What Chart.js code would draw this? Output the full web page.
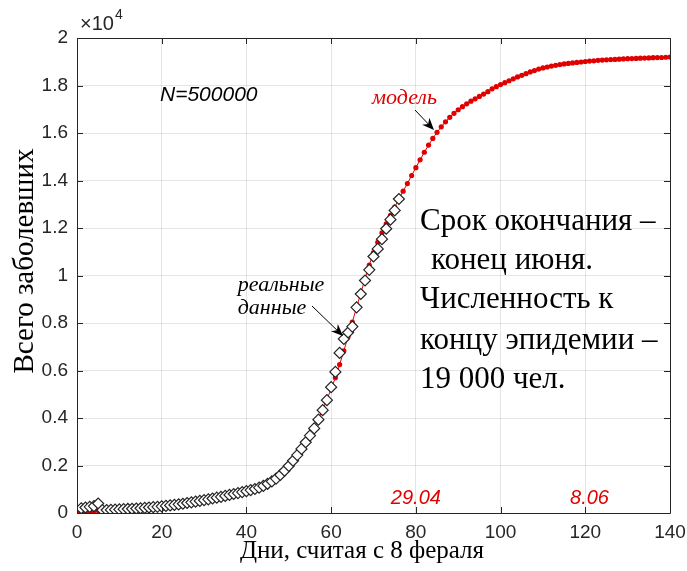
<!DOCTYPE html>
<html>
<head>
<meta charset="utf-8">
<script src="https://cdn.jsdelivr.net/npm/chart.js@4.4.1/dist/chart.umd.min.js"></script>
<style>
  body { margin: 0; background: #fff; }
  #wrap { width: 687px; height: 571px; }
</style>
</head>
<body>
<div id="wrap"><canvas id="myChart" width="687" height="571"></canvas></div>
<script>
// model: one value per day, starting at day 0
const modelValues = [
  40, 45, 55, 65, 75, 100, 110, 120, 130, 140,
  150, 160, 170, 180, 190, 200, 215, 230, 245, 260,
  280, 300, 320, 340, 365, 390, 415, 445, 475, 505,
  535, 570, 605, 640, 675, 715, 755, 795, 835, 875,
  920, 970, 1020, 1080, 1150, 1240, 1340, 1460, 1610, 1790,
  1990, 2210, 2450, 2710, 2990, 3280, 3600, 3960, 4350, 4780,
  5220, 5700, 6250, 6830, 7430, 8040, 8650, 9260, 9860, 10440,
  10960, 11400, 11800, 12170, 12530, 12880, 13220, 13550, 13870, 14210,
  14540, 14870, 15190, 15490, 15770, 16030, 16260, 16470, 16660, 16830,
  16980, 17110, 17230, 17340, 17440, 17540, 17640, 17740, 17860, 17950,
  18040, 18120, 18200, 18280, 18360, 18430, 18500, 18570, 18630, 18690,
  18740, 18780, 18820, 18850, 18880, 18910, 18930, 18950, 18970, 18990,
  19010, 19030, 19040, 19060, 19070, 19080, 19090, 19100, 19110, 19120,
  19130, 19135, 19140, 19150, 19155, 19160, 19170, 19175, 19180, 19190,
  19200
];

// real data: one value per day, starting at day 1
const realStartDay = 1;
const realValues = [
  200, 230, 260, 290, 400, 120, 125, 130, 140, 150,
  160, 170, 180, 190, 200, 215, 230, 245, 260, 280,
  300, 320, 340, 365, 390, 420, 450, 480, 510, 540,
  575, 610, 645, 680, 720, 760, 800, 840, 880, 920,
  965, 1010, 1070, 1140, 1230, 1330, 1450, 1600, 1780, 1980,
  2200, 2440, 2700, 2980, 3260, 3560, 3930, 4330, 4750, 5300,
  5940, 6740, 7330, 7600, 7850, 8660, 9220, 9790, 10240, 10800,
  11120, 11530, 11970, 12350, 12740, 13220
];

const xTicks = [0, 20, 40, 60, 80, 100, 120, 140];
const yTicks = [0, 2000, 4000, 6000, 8000, 10000, 12000, 14000, 16000, 18000, 20000];

const modelPoints = modelValues.map((v, i) => ({ x: i, y: v }));
const realPoints = realValues.map((v, i) => ({ x: realStartDay + i, y: v }));

const axisColor = '#262626';
const tickFont = { family: "'Liberation Sans', Arial, sans-serif", size: 19 };

function arrow(ctx, x1, y1, x2, y2) {
  const a = Math.atan2(y2 - y1, x2 - x1);
  const len = 12, w = 5;
  ctx.save();
  ctx.strokeStyle = '#000';
  ctx.fillStyle = '#000';
  ctx.lineWidth = 1;
  ctx.beginPath();
  ctx.moveTo(x1, y1);
  ctx.lineTo(x2 - Math.cos(a) * 6, y2 - Math.sin(a) * 6);
  ctx.stroke();
  ctx.beginPath();
  ctx.moveTo(x2, y2);
  ctx.lineTo(x2 - len * Math.cos(a) + w * Math.sin(a), y2 - len * Math.sin(a) - w * Math.cos(a));
  ctx.lineTo(x2 - len * 0.7 * Math.cos(a), y2 - len * 0.7 * Math.sin(a));
  ctx.lineTo(x2 - len * Math.cos(a) - w * Math.sin(a), y2 - len * Math.sin(a) + w * Math.cos(a));
  ctx.closePath();
  ctx.fill();
  ctx.restore();
}

// box, inward ticks, titles and notes
const notes = {
  id: 'notes',
  afterDraw(chart) {
    const { ctx, chartArea: a, scales } = chart;
    ctx.save();
    ctx.strokeStyle = axisColor;
    ctx.lineWidth = 1;
    ctx.beginPath();
    ctx.rect(a.left + 0.5, a.top + 0.5, a.right - a.left, a.bottom - a.top);
    ctx.stroke();
    ctx.beginPath();
    xTicks.forEach(t => {
      const x = Math.round(scales.x.getPixelForValue(t)) + 0.5;
      ctx.moveTo(x, a.bottom); ctx.lineTo(x, a.bottom - 6);
      ctx.moveTo(x, a.top); ctx.lineTo(x, a.top + 6);
    });
    yTicks.forEach(t => {
      const y = Math.round(scales.y.getPixelForValue(t)) + 0.5;
      ctx.moveTo(a.left, y); ctx.lineTo(a.left + 6, y);
      ctx.moveTo(a.right, y); ctx.lineTo(a.right - 6, y);
    });
    ctx.stroke();

    // exponent
    ctx.fillStyle = axisColor;
    ctx.textBaseline = 'alphabetic';
    ctx.textAlign = 'left';
    ctx.font = "20px 'Liberation Sans', Arial, sans-serif";
    ctx.fillText('\u00d710', 80, 30);
    ctx.font = "14px 'Liberation Sans', Arial, sans-serif";
    ctx.fillText('4', 115, 19);

    // axis titles
    ctx.fillStyle = '#000';
    ctx.font = "25px 'Liberation Serif', 'Times New Roman', serif";
    ctx.textAlign = 'center';
    ctx.textBaseline = 'middle';
    ctx.fillText('Дни, считая с 8 фераля', 362, 551);
    ctx.save();
    ctx.translate(25, 261);
    ctx.rotate(-Math.PI / 2);
    ctx.font = "29px 'Liberation Serif', 'Times New Roman', serif";
    ctx.fillText('Всего заболевших', 0, 0);
    ctx.restore();

    // notes
    ctx.textAlign = 'left';
    ctx.font = "italic 21px 'Liberation Sans', Arial, sans-serif";
    ctx.fillStyle = '#000';
    ctx.fillText('N=500000', 160, 95);

    ctx.fillStyle = '#e00000';
    ctx.font = "italic 22px 'Liberation Serif', serif";
    ctx.fillText('модель', 372, 98);
    arrow(ctx, 415, 110, 434, 130);

    ctx.fillStyle = '#000';
    ctx.textAlign = 'center';
    ctx.fillText('реальные', 281, 285);
    ctx.fillText('данные', 272, 308);
    arrow(ctx, 312, 306, 343, 336);

    ctx.textAlign = 'center';
    ctx.fillStyle = '#e00000';
    ctx.font = "italic 20px 'Liberation Sans', Arial, sans-serif";
    ctx.fillText('29.04', scales.x.getPixelForValue(80), 498);
    ctx.fillText('8.06', scales.x.getPixelForValue(121), 498);

    ctx.fillStyle = '#000';
    ctx.textAlign = 'left';
    ctx.font = "31px 'Liberation Serif', 'Times New Roman', serif";
    ctx.fillText('Срок окончания \u2013', 420, 222);
    ctx.fillText('конец июня.', 431, 261);
    ctx.fillText('Численность к', 420, 300);
    ctx.fillText('концу эпидемии \u2013', 420, 341);
    ctx.fillText('19 000 чел.', 420, 380);
    ctx.restore();
  }
};

new Chart(document.getElementById('myChart'), {
  type: 'scatter',
  data: {
    datasets: [{
      label: 'реальные данные',
      data: realPoints,
      order: 0,
      pointStyle: 'rectRot',
      pointRadius: 5.5,
      pointBackgroundColor: '#fff',
      pointBorderColor: '#222',
      pointBorderWidth: 1.2,
      showLine: false
    }, {
      label: 'модель',
      data: modelPoints,
      order: 1,
      showLine: true,
      borderColor: '#e00000',
      borderWidth: 1,
      pointRadius: 2.6,
      pointBackgroundColor: '#e00000',
      pointBorderWidth: 0
    }]
  },
  options: {
    responsive: false,
    animation: false,
    devicePixelRatio: 1,
    layout: { padding: { top: 38, right: 17, left: 0, bottom: 0 } },
    plugins: {
      legend: { display: false },
      tooltip: { enabled: false }
    },
    scales: {
      x: {
        type: 'linear',
        min: 0,
        max: 140,
        afterBuildTicks: s => { s.ticks = xTicks.map(v => ({ value: v })); },
        afterFit: s => { s.height = 58; s.paddingLeft = 0; s.paddingRight = 0; },
        ticks: { font: tickFont, color: axisColor, padding: 8, maxRotation: 0 },
        grid: { color: 'rgba(0,0,0,0.1)', drawTicks: false },
        border: { display: false }
      },
      y: {
        min: 0,
        max: 20000,
        afterBuildTicks: s => { s.ticks = yTicks.map(v => ({ value: v })); },
        afterFit: s => { s.width = 77; s.paddingTop = 0; s.paddingBottom = 0; },
        ticks: {
          font: tickFont,
          color: axisColor,
          padding: 9,
          callback: v => String(Math.round(v / 1000) / 10)
        },
        grid: { color: 'rgba(0,0,0,0.1)', drawTicks: false },
        border: { display: false }
      }
    }
  },
  plugins: [notes]
});
</script>
</body>
</html>
